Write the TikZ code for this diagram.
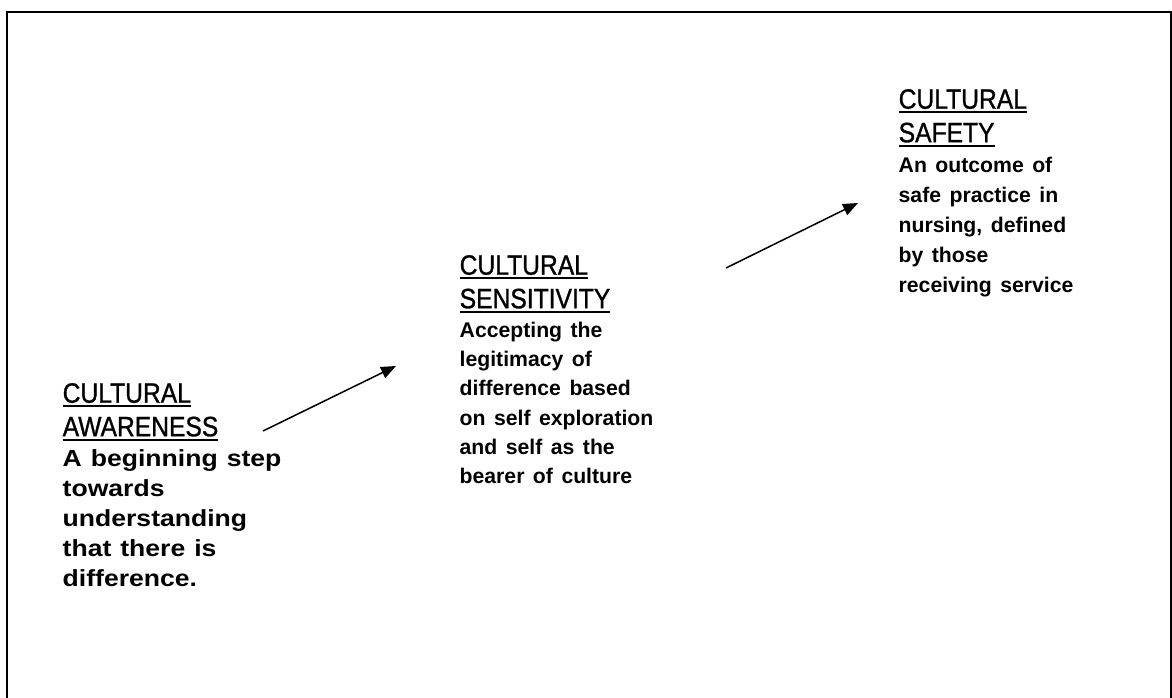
\documentclass[tikz,border=0pt]{standalone}
\usepackage{fontspec}
\usepackage{tikz}
\usetikzlibrary{arrows.meta,positioning}
\newfontfamily\hdrfont[FakeStretch=0.88, FakeBold=1]{Liberation Sans}
\newfontfamily\awfont[FakeStretch=1.14]{Liberation Sans Bold}
\newfontfamily\txtfont{Liberation Sans Bold}
\newsavebox{\hdrbox}
\newcommand{\ulword}[1]{\leavevmode\sbox{\hdrbox}{#1}\rlap{\rule[-4.5pt]{\wd\hdrbox}{2pt}}\usebox{\hdrbox}}
\newcommand{\hdr}[2]{{\hdrfont\fontsize{28}{33.5}\selectfont\ulword{#1}\\\ulword{#2}\par}}

\begin{document}
\begin{tikzpicture}[x=1pt, y=1pt,
  stage/.style={anchor=north west, inner sep=0pt, text width=320pt, align=left},
  stepline/.style={line width=1.5pt, -{Triangle[length=15pt, width=12pt]}}]
  \useasboundingbox (0,0) rectangle (1172,698);
  % frame, open at the bottom
  \draw[line width=2pt] (7,0) -- (7,685.5) -- (1171,685.5) -- (1171,0);
  % the three stages
  \node[stage] (aware) at (62.5,315)
    {\hdr{CULTURAL}{AWARENESS}
     {\awfont\fontsize{23.3}{30}\selectfont\spaceskip=9pt
      A beginning step\\towards\\understanding\\that there is\\difference.\par}};
  \node[stage] (sense) at (459.5,443)
    {\hdr{CULTURAL}{SENSITIVITY}
     {\txtfont\fontsize{21.2}{29.2}\selectfont\spaceskip=8.5pt
      Accepting the\\legitimacy of\\difference based\\on self exploration\\and self as the\\bearer of culture\par}};
  \node[stage] (safe) at (898.5,609)
    {\hdr{CULTURAL}{SAFETY}
     {\txtfont\fontsize{21.2}{30}\selectfont\spaceskip=8.5pt
      An outcome of\\safe practice in\\nursing, defined\\by those\\receiving service\par}};
  % arrows between the stages
  \coordinate (a1) at (263,267);
  \coordinate (b1) at (396,332);
  \coordinate (a2) at (726,430);
  \coordinate (b2) at (858,495);
  \draw[stepline] (a1) -- (b1);
  \draw[stepline] (a2) -- (b2);
\end{tikzpicture}
\end{document}
